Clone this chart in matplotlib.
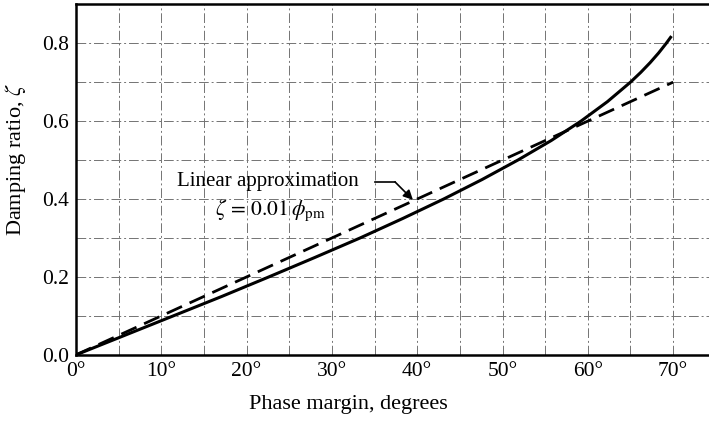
import numpy as np
import matplotlib.pyplot as plt

# values
pm_exact = [0, 5.7, 11.4, 17.1, 22.6, 28.0, 33.3, 38.3, 43.1, 47.6,
            51.8, 55.7, 59.2, 62.3, 65.0, 66.2, 67.3, 68.3, 69.2, 69.7]
zeta_exact = [0, 0.05, 0.10, 0.15, 0.20, 0.25, 0.30, 0.35, 0.40, 0.45,
              0.50, 0.55, 0.60, 0.65, 0.70, 0.725, 0.75, 0.775, 0.80, 0.815]
pm_linear = [0, 70]
zeta_linear = [0, 0.70]

xticks = [0, 10, 20, 30, 40, 50, 60, 70]
xtick_labels = ["0°", "10°", "20°", "30°", "40°", "50°", "60°", "70°"]
yticks = [0.0, 0.2, 0.4, 0.6, 0.8]

plt.rcParams["font.family"] = ["Liberation Serif", "DejaVu Serif"]
plt.rcParams["mathtext.fontset"] = "stix"

fig = plt.figure(figsize=(7.09, 4.21), dpi=100)
ax = fig.add_axes([0.107, 0.157, 0.893, 0.833])

ax.set_xlim(0, 74.2)
ax.set_ylim(0, 0.9)

# grid every 5 degrees and every 0.1
for gx in np.arange(5, 74, 5):
    ax.axvline(gx, color="0.45", lw=0.7, ls=(0, (10, 3, 2, 3)), zorder=1)
for gy in np.arange(0.1, 0.85, 0.1):
    ax.axhline(gy, color="0.45", lw=0.7, ls=(0, (10, 3, 2, 3)), zorder=1)

ax.plot(pm_exact, zeta_exact, color="black", lw=2.2, zorder=3)
ax.plot(pm_linear, zeta_linear, color="black", lw=2.0, ls=(0, (6, 3)), zorder=3)

ax.text(22.5, 0.444, "Linear approximation", ha="center", va="center", fontsize=15)
ax.text(22.8, 0.372, r"$\zeta\,=\,0.01\,\phi_{\rm pm}$", ha="center", va="center", fontsize=15.5)
ax.plot([35.0, 37.4], [0.444, 0.444], color="black", lw=1.2, zorder=4)
ax.annotate("", xy=(39.5, 0.398), xytext=(37.4, 0.444),
            arrowprops=dict(arrowstyle="-|>", color="black", lw=1.2,
                            mutation_scale=14, shrinkA=0, shrinkB=0), zorder=4)

ax.set_xticks(xticks)
ax.set_xticklabels(xtick_labels)
ax.set_yticks(yticks)
ax.set_yticklabels(["0.0", "0.2", "0.4", "0.6", "0.8"])
ax.tick_params(length=0, labelsize=15.5, pad=5)

ax.set_xlabel("Phase margin, degrees", fontsize=16)
ax.set_ylabel(r"Damping ratio, $\zeta$", fontsize=16)
ax.xaxis.set_label_coords(0.43, -0.115)
ax.yaxis.set_label_coords(-0.075, 0.558)

for side in ["left", "bottom", "top"]:
    ax.spines[side].set_linewidth(1.8)
ax.spines["right"].set_visible(False)

fig.savefig("out.png", dpi=100)
